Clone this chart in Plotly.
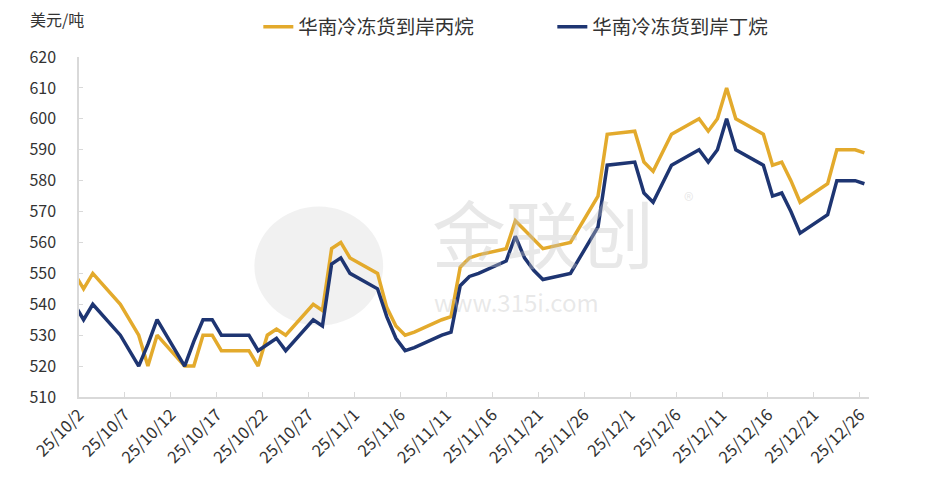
import plotly.graph_objects as go

# ---- data ----
dates = ['2025-10-01', '2025-10-02', '2025-10-03', '2025-10-06', '2025-10-08', '2025-10-09', '2025-10-10',
         '2025-10-13', '2025-10-14', '2025-10-15', '2025-10-16', '2025-10-17', '2025-10-20', '2025-10-21',
         '2025-10-22', '2025-10-23', '2025-10-24', '2025-10-27', '2025-10-28', '2025-10-29', '2025-10-30',
         '2025-10-31', '2025-11-03', '2025-11-04', '2025-11-05', '2025-11-06', '2025-11-07', '2025-11-10',
         '2025-11-11', '2025-11-12', '2025-11-13', '2025-11-14', '2025-11-17', '2025-11-18', '2025-11-19',
         '2025-11-20', '2025-11-21', '2025-11-24', '2025-11-25', '2025-11-26', '2025-11-27', '2025-11-28',
         '2025-12-01', '2025-12-02', '2025-12-03', '2025-12-04', '2025-12-05', '2025-12-08', '2025-12-09',
         '2025-12-10', '2025-12-11', '2025-12-12', '2025-12-15', '2025-12-16', '2025-12-17', '2025-12-18',
         '2025-12-19', '2025-12-22', '2025-12-23', '2025-12-24', '2025-12-25', '2025-12-26']

propane = [550, 545, 550, 540, 530, 520, 530,
           520, 520, 530, 530, 525, 525, 520,
           530, 532, 530, 540, 538, 558, 560,
           555, 550, 539, 533, 530, 531, 535,
           536, 552, 555, 556, 558, 567, 564,
           561, 558, 560, 565, 570, 575, 595,
           596, 586, 583, 589, 595, 600, 596,
           600, 610, 600, 595, 585, 586, 580,
           573, 579, 590, 590, 590, 589]

butane = [540, 535, 540, 530, 520, 527, 535,
          520, 528, 535, 535, 530, 530, 525,
          527, 529, 525, 535, 533, 553, 555,
          550, 545, 536, 529, 525, 526, 530,
          531, 546, 549, 550, 554, 562, 555,
          551, 548, 550, 555, 560, 565, 585,
          586, 576, 573, 579, 585, 590, 586,
          590, 600, 590, 585, 575, 576, 570,
          563, 569, 580, 580, 580, 579]

tick_dates = ['2025-10-02', '2025-10-07', '2025-10-12', '2025-10-17', '2025-10-22', '2025-10-27',
              '2025-11-01', '2025-11-06', '2025-11-11', '2025-11-16', '2025-11-21', '2025-11-26',
              '2025-12-01', '2025-12-06', '2025-12-11', '2025-12-16', '2025-12-21', '2025-12-26']
tick_labels = ['25/10/2', '25/10/7', '25/10/12', '25/10/17', '25/10/22', '25/10/27',
               '25/11/1', '25/11/6', '25/11/11', '25/11/16', '25/11/21', '25/11/26',
               '25/12/1', '25/12/6', '25/12/11', '25/12/16', '25/12/21', '25/12/26']

series_names = ['华南冷冻货到岸丙烷', '华南冷冻货到岸丁烷']
unit_label = '美元/吨'
watermark_cn = '金联创'
watermark_url = 'www.315i.com'

YELLOW = '#E3AA2C'
NAVY = '#1E3572'
FONT = 'Noto Sans CJK SC, Noto Sans, sans-serif'
WM = 'rgba(195,195,195,0.38)'

fig = go.Figure()
for name, vals, col in [(series_names[0], propane, YELLOW), (series_names[1], butane, NAVY)]:
    fig.add_trace(go.Scatter(
        x=dates, y=vals, name=name, mode='lines',
        line=dict(color=col, width=3.5),
        xperiod=86400000, xperiodalignment='middle',
    ))

fig.update_layout(
    width=932, height=500,
    margin=dict(l=71, r=71, t=49, b=111, autoexpand=False),
    paper_bgcolor='white', plot_bgcolor='white',
    font=dict(family=FONT, color='#333333', size=15),
    showlegend=True,
    legend=dict(orientation='h', x=0.227, xanchor='left', y=1.088, yanchor='middle',
                font=dict(size=19.5, color='#333333'), entrywidth=249, entrywidthmode='pixels',
                bgcolor='rgba(0,0,0,0)'),
    shapes=[
        dict(type='circle', xref='paper', yref='paper', layer='below',
             x0=0.222, x1=0.385, y0=0.21, y1=0.56,
             fillcolor='rgba(215,215,215,0.35)', line=dict(width=0)),
    ],
    annotations=[
        dict(text=unit_label, xref='paper', yref='paper', x=-0.0646, y=1.112,
             xanchor='left', yanchor='middle', showarrow=False,
             font=dict(size=16, color='#333333')),
        dict(text=watermark_cn, xref='paper', yref='paper', x=0.444, y=0.49,
             xanchor='left', yanchor='middle', showarrow=False,
             font=dict(size=74, color=WM)),
        dict(text=watermark_url, xref='paper', yref='paper', x=0.447, y=0.28,
             xanchor='left', yanchor='middle', showarrow=False,
             font=dict(size=24, color=WM)),
        dict(text='®', xref='paper', yref='paper', x=0.772, y=0.58,
             xanchor='center', yanchor='middle', showarrow=False,
             font=dict(size=20, color=WM)),
    ],
)

fig.update_xaxes(
    type='date', range=['2025-10-02', '2025-12-27'],
    tickmode='array', tickvals=tick_dates, ticktext=tick_labels,
    tickangle=-45, tickfont=dict(size=16.5, color='#333333'),
    showgrid=False, zeroline=False, automargin=False,
    showline=True, linecolor='#D9D9D9', linewidth=1.5,
    ticks='inside', ticklen=5, tickcolor='#D9D9D9',
)
fig.update_yaxes(
    range=[510, 620], dtick=10, tick0=510,
    tickfont=dict(size=16, color='#333333'),
    showgrid=False, zeroline=False, automargin=False,
    showline=True, linecolor='#D9D9D9', linewidth=1.5,
    ticks='inside', ticklen=4, tickcolor='#D9D9D9',
    ticklabelstandoff=18,
)

fig.write_html('out.html')
